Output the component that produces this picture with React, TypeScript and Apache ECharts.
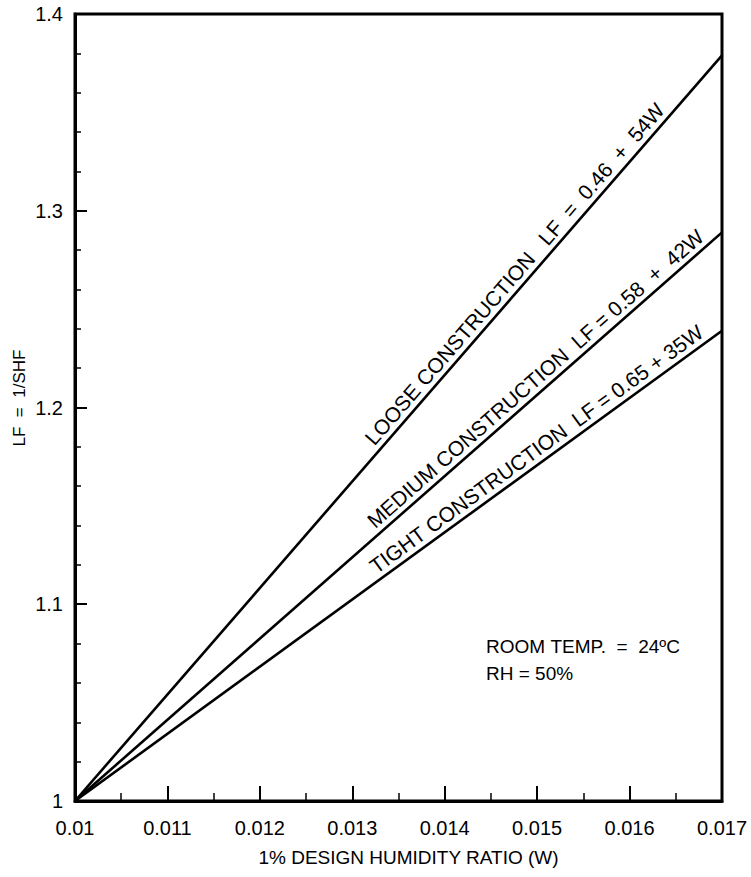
import React, { useEffect, useRef } from "react";
import * as echarts from "echarts";

const xTicks = [0.01, 0.011, 0.012, 0.013, 0.014, 0.015, 0.016, 0.017];
const yTickLabels = ["1", "1.1", "1.2", "1.3", "1.4"];

const seriesNames = ["LOOSE CONSTRUCTION", "MEDIUM CONSTRUCTION", "TIGHT CONSTRUCTION"];
const eqIntercepts = ["0.46", "0.58", "0.65"];
const eqSlopes = ["54W", "42W", "35W"];
const wStart = [0.01, 0.01, 0.01];
const wEnd = [0.017, 0.017, 0.017];
const lfStart = [1.0, 1.0, 1.0];
const lfEnd = [1.379, 1.289, 1.239];
// where each label starts along its line (W value)
const labelW = [0.01329, 0.01329, 0.0133];

const noteLines = ["ROOM TEMP.  =  24ºC", "RH = 50%"];
const xAxisTitle = "1% DESIGN HUMIDITY RATIO (W)";
const yAxisTitle = "LF  =  1/SHF";

// spacing (number of non-breaking spaces) inside each label
const gapName = [3, 2, 2];
const gapEq = [2, 1, 1];
const gapPlus = [2, 2, 1];

const FONT = "'Liberation Sans', Arial, Helvetica, sans-serif";
const NB = "\u00A0";

function buildLabel(i: number) {
  const s = (n: number) => NB.repeat(n);
  return (
    seriesNames[i].replace(/ /g, NB) +
    s(gapName[i]) +
    "LF" +
    s(gapEq[i]) +
    "=" +
    s(gapEq[i]) +
    eqIntercepts[i] +
    s(gapPlus[i]) +
    "+" +
    s(gapPlus[i]) +
    eqSlopes[i]
  );
}

export default function App() {
  const ref = useRef<HTMLDivElement>(null);
  useEffect(() => {
    if (!ref.current) return;
    const chart = echarts.init(ref.current, undefined, { renderer: "svg" });
    const series = seriesNames.map((n, i) => ({
      name: n,
      type: "line",
      data: [
        [wStart[i], lfStart[i]],
        [wEnd[i], lfEnd[i]],
      ],
      symbol: "none",
      lineStyle: { color: "#000", width: 2.6 },
      silent: true,
      z: 3,
    }));
    chart.setOption({
      animation: false,
      backgroundColor: "#fff",
      grid: {
        left: 75,
        right: 29,
        top: 14,
        bottom: 76,
        show: true,
        borderColor: "#000",
        borderWidth: 3,
        backgroundColor: "transparent",
      },
      xAxis: {
        type: "value",
        min: xTicks[0],
        max: xTicks[xTicks.length - 1],
        interval: 0.001,
        name: xAxisTitle,
        nameLocation: "middle",
        nameGap: 47,
        nameTextStyle: { fontFamily: FONT, fontSize: 19, color: "#000", padding: [0, 0, 0, 20] },
        axisLine: { show: true, lineStyle: { color: "#000", width: 3 } },
        axisTick: { show: true, inside: true, length: 15, lineStyle: { color: "#000", width: 2 } },
        minorTick: { show: true, splitNumber: 2, length: 8, lineStyle: { color: "#000", width: 1.5 } },
        splitLine: { show: false },
        axisLabel: {
          fontFamily: FONT,
          fontSize: 20,
          color: "#000",
          margin: 17,
          formatter: (v: number) => {
            const idx = xTicks.findIndex((t) => Math.abs(t - v) < 1e-9);
            return idx >= 0 ? String(xTicks[idx]) : "";
          },
        },
      },
      yAxis: {
        type: "value",
        min: 1.0,
        max: 1.4,
        interval: 0.1,
        axisLine: { show: true, lineStyle: { color: "#000", width: 3 } },
        axisTick: { show: true, inside: true, length: 12, lineStyle: { color: "#000", width: 2 } },
        minorTick: { show: true, splitNumber: 5, length: 6, lineStyle: { color: "#000", width: 1.5 } },
        splitLine: { show: false },
        axisLabel: {
          fontFamily: FONT,
          fontSize: 20,
          color: "#000",
          margin: 12,
          formatter: (v: number) => {
            const idx = Math.round((v - 1) * 10);
            return yTickLabels[idx] ?? "";
          },
        },
      },
      series,
    });

    // place rotated line labels along each line
    const graphics: any[] = [];
    seriesNames.forEach((n, i) => {
      const p0 = chart.convertToPixel({ gridIndex: 0 }, [wStart[i], lfStart[i]]) as number[];
      const p1 = chart.convertToPixel({ gridIndex: 0 }, [wEnd[i], lfEnd[i]]) as number[];
      const ang = Math.atan2(p0[1] - p1[1], p1[0] - p0[0]);
      const t = (labelW[i] - wStart[i]) / (wEnd[i] - wStart[i]);
      const ax = p0[0] + (p1[0] - p0[0]) * t;
      const ay = p0[1] + (p1[1] - p0[1]) * t;
      const off = 3;
      const x = ax - Math.sin(ang) * off;
      const y = ay - Math.cos(ang) * off;
      graphics.push({
        type: "text",
        x,
        y,
        rotation: ang,
        silent: true,
        style: {
          text: buildLabel(i),
          fontFamily: FONT,
          fontSize: 21,
          fill: "#000",
          align: "left",
          verticalAlign: "bottom",
          textAlign: "left",
          textVerticalAlign: "bottom",
        },
      });
    });
    graphics.push({
      type: "text",
      x: 19,
      y: 398,
      rotation: Math.PI / 2,
      silent: true,
      style: {
        text: yAxisTitle.replace(/ /g, NB),
        fontFamily: FONT,
        fontSize: 17,
        fill: "#000",
        align: "center",
        verticalAlign: "middle",
        textAlign: "center",
        textVerticalAlign: "middle",
      },
    });
    graphics.push({
      type: "text",
      left: 486,
      top: 633,
      silent: true,
      style: {
        text: noteLines.map((s) => s.replace(/ /g, NB)).join("\n"),
        fontFamily: FONT,
        fontSize: 19,
        lineHeight: 27,
        fill: "#000",
      },
    });
    chart.setOption({ graphic: graphics });

    return () => chart.dispose();
  }, []);
  return (
    <div
      ref={ref}
      style={{ position: "absolute", left: 0, top: 0, width: 751, height: 877, background: "#fff" }}
    />
  );
}
